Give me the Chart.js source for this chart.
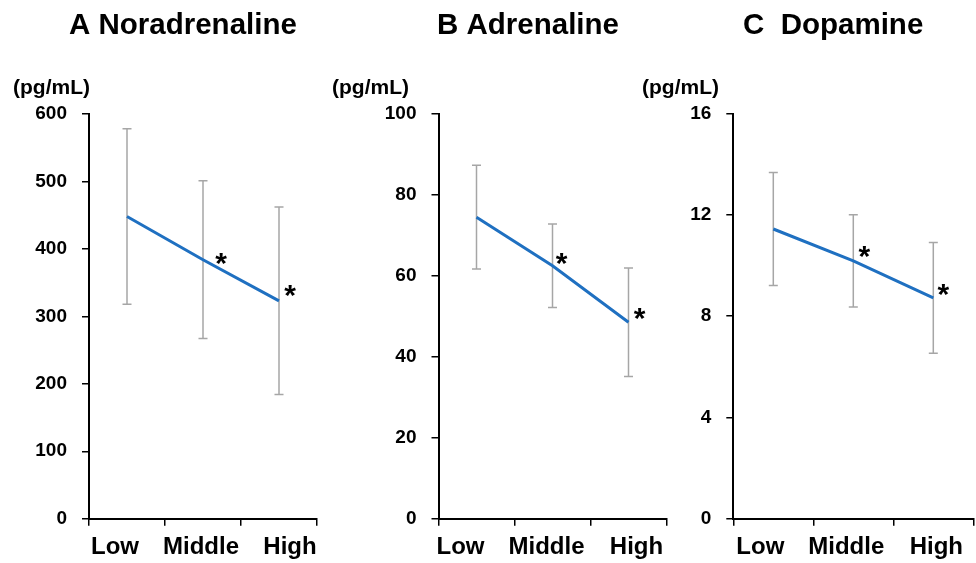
<!DOCTYPE html>
<html><head><meta charset="utf-8">
<script src="https://cdn.jsdelivr.net/npm/chart.js@4"></script>
<style>
html,body{margin:0;padding:0;background:#fff;width:976px;height:563px;overflow:hidden}
canvas{position:absolute;left:0;top:0}
</style></head>
<body>
<canvas id="cA" width="976" height="563"></canvas>
<canvas id="cB" width="976" height="563"></canvas>
<canvas id="cC" width="976" height="563"></canvas>
<script>
// ---- data ----
const categories = ['Low', 'Middle', 'High'];

const noradrenalineMean = [448, 384, 323];
const noradrenalineSD   = [130, 117, 139];
const noradrenalineSig  = [false, true, true];

const adrenalineMean = [74.4, 62.4, 48.5];
const adrenalineSD   = [12.8, 10.3, 13.4];
const adrenalineSig  = [false, true, true];

const dopamineMean = [11.44, 10.18, 8.72];
const dopamineSD   = [2.23, 1.82, 2.19];
const dopamineSig  = [false, true, true];

const titles = ['A Noradrenaline', 'B Adrenaline', 'C  Dopamine'];
const unitLabel = '(pg/mL)';
const yMax = [600, 100, 16];
const yStep = [100, 20, 4];

// ---- drawing ----
const FONT = '"Liberation Sans", Arial, sans-serif';
const W = 976, H = 563;

const panels = [
  {id:'cA', mean:noradrenalineMean, sd:noradrenalineSD, sig:noradrenalineSig,
   left:89, right:317, top:114, titleX:69, unitX:13,
   labelShift:[-12,-2,11], star:[[0,0],[18,0],[11,-9]]},
  {id:'cB', mean:adrenalineMean, sd:adrenalineSD, sig:adrenalineSig,
   left:438.5, right:666.5, top:113.5, titleX:437, unitX:332,
   labelShift:[-16,-6,8], star:[[0,0],[9,-6],[11,-7]]},
  {id:'cC', mean:dopamineMean, sd:dopamineSD, sig:dopamineSig,
   left:733.3, right:973.3, top:113.5, titleX:743, unitX:642,
   labelShift:[-13,-7,3], star:[[0,0],[11,-8],[10,-7]]}
];
const bottom = 518.7;
const YW = 60;

panels.forEach((p, k) => {
  const extras = {
    id: 'extras' + k,
    beforeDatasetsDraw(chart) {
      const ctx = chart.ctx, x = chart.scales.x, y = chart.scales.y;
      ctx.save();
      ctx.strokeStyle = '#a6a6a6';
      ctx.lineWidth = 1.5;
      p.mean.forEach((m, i) => {
        const px = x.getPixelForValue(i);
        const yt = y.getPixelForValue(m + p.sd[i]);
        const yb = y.getPixelForValue(m - p.sd[i]);
        ctx.beginPath();
        ctx.moveTo(px, yt); ctx.lineTo(px, yb);
        ctx.moveTo(px - 4.5, yt); ctx.lineTo(px + 4.5, yt);
        ctx.moveTo(px - 4.5, yb); ctx.lineTo(px + 4.5, yb);
        ctx.stroke();
      });
      ctx.restore();
    },
    afterDraw(chart) {
      const ctx = chart.ctx, x = chart.scales.x, y = chart.scales.y;
      ctx.save();
      ctx.fillStyle = '#000';
      // title
      ctx.font = 'bold 29.5px ' + FONT;
      ctx.textAlign = 'left'; ctx.textBaseline = 'alphabetic';
      ctx.fillText(titles[k], p.titleX, 34);
      // unit
      ctx.font = 'bold 21px ' + FONT;
      ctx.textBaseline = 'middle';
      ctx.fillText(unitLabel, p.unitX, 88);
      // category labels
      ctx.font = 'bold 24px ' + FONT;
      ctx.textAlign = 'center';
      categories.forEach((c, i) => {
        ctx.fillText(c, x.getPixelForValue(i) + p.labelShift[i], 547);
      });
      // significance stars
      ctx.font = 'bold 30px ' + FONT;
      ctx.textBaseline = 'alphabetic';
      p.mean.forEach((m, i) => {
        if (!p.sig[i]) return;
        const px = x.getPixelForValue(i) + p.star[i][0];
        const py = y.getPixelForValue(m) + p.star[i][1];
        ctx.fillText('*', px, py + 13);
      });
      ctx.restore();
    }
  };

  new Chart(document.getElementById(p.id), {
    type: 'line',
    data: {
      labels: categories,
      datasets: [{
        data: p.mean,
        borderColor: '#1f70c1',
        borderWidth: 3,
        pointRadius: 0,
        tension: 0,
        fill: false
      }]
    },
    options: {
      responsive: false,
      animation: false,
      events: [],
      layout: { padding: { left: p.left - YW, right: W - p.right, top: p.top, bottom: 0 } },
      plugins: { legend: { display: false }, tooltip: { enabled: false }, title: { display: false } },
      scales: {
        x: {
          type: 'category',
          offset: true,
          grid: { offset: true, drawOnChartArea: false, drawTicks: true, tickLength: 7, color: '#000', lineWidth: 1.5 },
          border: { display: true, color: '#000', width: 2 },
          ticks: { display: false },
          afterFit(s) { s.height = H - bottom; }
        },
        y: {
          min: 0, max: yMax[k],
          grid: { drawOnChartArea: false, drawTicks: true, tickLength: 7, color: '#000', lineWidth: 1.5 },
          border: { display: true, color: '#000', width: 2 },
          ticks: { stepSize: yStep[k], padding: 15, color: '#000', font: { family: FONT, size: 19, weight: 'bold' } },
          afterFit(s) { s.width = YW; }
        }
      }
    },
    plugins: [extras]
  });
});
</script>
</body></html>
